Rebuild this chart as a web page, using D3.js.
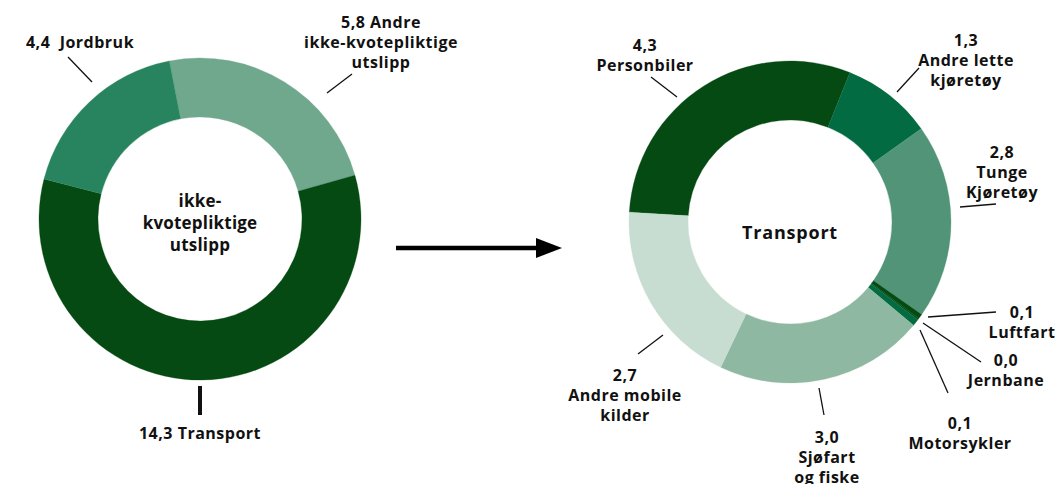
<!DOCTYPE html>
<html lang="no">
<head>
<meta charset="utf-8">
<title>Utslipp</title>
<script src="https://d3js.org/d3.v7.min.js"></script>
<style>
  body { margin: 0; background: #fff; }
  text { font-family: "Open Sans", sans-serif; font-weight: 700; fill: #111; white-space: pre; }
</style>
</head>
<body>
<svg width="1055" height="484"></svg>
<script>
// left donut: ikke-kvotepliktige utslipp
var leftNames = ["Andre ikke-kvotepliktige utslipp", "Transport", "Jordbruk"];
var leftValues = [5.8, 14.3, 4.4];
var leftColors = ["#70a88e", "#044a12", "#27845f"];
var leftLabels = [["5,8 Andre", "ikke-kvotepliktige", "utslipp"], ["14,3 Transport"], ["4,4  Jordbruk"]];

// right donut: transport
var rightNames = ["Personbiler", "Andre lette kjøretøy", "Tunge kjøretøy", "Luftfart", "Jernbane", "Motorsykler", "Sjøfart og fiske", "Andre mobile kilder"];
var rightValues = [4.3, 1.3, 2.8, 0.07, 0.02, 0.1, 3.0, 2.7];
var rightColors = ["#044a12", "#036b41", "#519478", "#044a12", "#044a12", "#036b41", "#8eb8a1", "#c8ddd1"];
var rightLabels = [["Personbiler"], ["Andre lette", "kjøretøy"], ["Tunge", "Kjøretøy"], ["Luftfart"], ["Jernbane"], ["Motorsykler"], ["Sjøfart", "og fiske"], ["Andre mobile", "kilder"]];

var fmt = v => d3.format(".1f")(v).replace(".", ",");

// label layout, relative to donut centre: text x, first line y, leader line
var leftLayout = [
  {tx: 181, ty: -197, line: [[127, -126], [152, -145]]},
  {tx: 0, ty: 214, line: [[0, 167], [0, 196]], w: 4},
  {tx: -120, ty: -177, line: [[-108, -137], [-132, -162]]}
];
var rightLayout = [
  {tx: -145, ty: -177, line: [[-139, -145], [-113, -125]]},
  {tx: 176, ty: -182, line: [[129, -154], [107, -130]]},
  {tx: 212, ty: -70, line: [[170, -15], [206, -18]]},
  {tx: 232, ty: 90, line: [[138, 95], [206, 90]]},
  {tx: 216, ty: 138, line: [[133, 101], [191, 140]]},
  {tx: 170, ty: 201, line: [[130, 108], [158, 171]]},
  {tx: 37, ty: 215, line: [[29, 166], [34, 193]]},
  {tx: -165, ty: 153, line: [[-127, 113], [-152, 132]]}
];

var svg = d3.select("svg");
var rOut = 161, rIn = 102;
var arc = d3.arc().innerRadius(rIn).outerRadius(rOut);
var deg = Math.PI / 180;

function donut(cx, cy, values, colors, start, labels, layout, withValueLine) {
  var g = svg.append("g").attr("transform", `translate(${cx},${cy})`);
  var pie = d3.pie().sort(null).startAngle(start).endAngle(start + 2 * Math.PI);
  g.selectAll("path")
    .data(pie(values))
    .enter()
    .append("path")
    .attr("d", arc)
    .attr("fill", (d, i) => colors[i])
    .attr("stroke", (d, i) => colors[i])
    .attr("stroke-width", 0.3);

  g.selectAll("line.lead")
    .data(layout)
    .enter()
    .append("line")
    .attr("class", "lead")
    .attr("x1", d => d.line[0][0]).attr("y1", d => d.line[0][1])
    .attr("x2", d => d.line[1][0]).attr("y2", d => d.line[1][1])
    .attr("stroke", "#111")
    .attr("stroke-width", d => d.w || 1.3);

  var t = g.selectAll("text.lab")
    .data(layout)
    .enter()
    .append("text")
    .attr("class", "lab")
    .attr("text-anchor", "middle")
    .attr("font-size", 16)
    .attr("letter-spacing", 0.5)
    .attr("x", d => d.tx)
    .attr("y", d => d.ty);
  t.each(function(d, i) {
    var lines = withValueLine ? [fmt(values[i])].concat(labels[i]) : labels[i];
    d3.select(this).selectAll("tspan")
      .data(lines)
      .enter()
      .append("tspan")
      .attr("x", d.tx)
      .attr("dy", (s, j) => j === 0 ? "0.35em" : "1.25em")
      .text(s => s);
  });
  return g;
}

var gl = donut(200, 219, leftValues, leftColors, -11 * deg, leftLabels, leftLayout, false);
gl.append("text")
  .attr("text-anchor", "middle")
  .attr("font-size", 17)
  .attr("letter-spacing", 0.2)
  .attr("y", -18)
  .selectAll("tspan")
  .data(["ikke-", "kvotepliktige", "utslipp"])
  .enter()
  .append("tspan")
  .attr("x", 0)
  .attr("dy", (s, j) => j === 0 ? "0.35em" : "1.3em")
  .text(s => s);

var gr = donut(790, 222, rightValues, rightColors, -86.5 * deg, rightLabels, rightLayout, true);
gr.append("text")
  .attr("text-anchor", "middle")
  .attr("font-size", 18)
  .attr("letter-spacing", 0.8)
  .attr("y", 11)
  .attr("dy", "0.35em")
  .text("Transport");

// arrow between the donuts
svg.append("defs").append("marker")
  .attr("id", "head")
  .attr("viewBox", "0 0 26 20")
  .attr("refX", 0).attr("refY", 10)
  .attr("markerWidth", 26).attr("markerHeight", 20)
  .attr("markerUnits", "userSpaceOnUse")
  .attr("orient", "auto")
  .append("path")
  .attr("d", "M0,0L26,10L0,20Z")
  .attr("fill", "#000");
svg.append("line")
  .attr("x1", 396).attr("y1", 248)
  .attr("x2", 536).attr("y2", 248)
  .attr("stroke", "#000")
  .attr("stroke-width", 4.5)
  .attr("marker-end", "url(#head)");
</script>
</body>
</html>
